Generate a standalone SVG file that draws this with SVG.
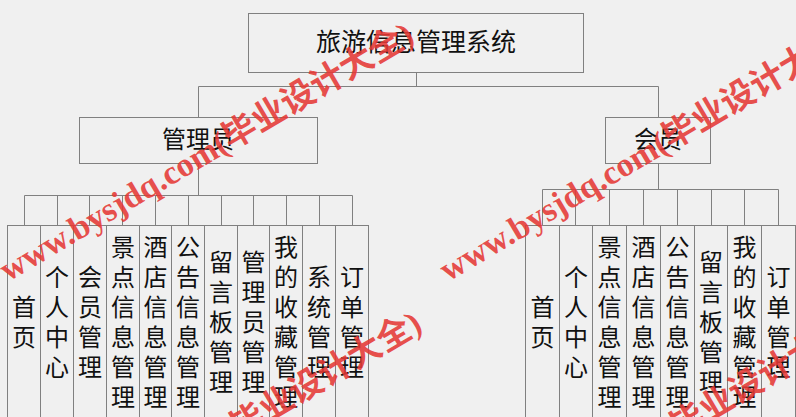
<svg xmlns="http://www.w3.org/2000/svg" width="796" height="417" viewBox="0 0 796 417">
<style>
.bg{fill:#f0f0f0}
.box{fill:#f0f0f0;stroke:#808080;stroke-width:1}
.ln{fill:none;stroke:#808080;stroke-width:1}
.t{font-family:"Noto Sans CJK SC","Noto Sans",sans-serif;fill:#111;text-anchor:middle}
.big{font-size:25px}
.mid{font-size:24px}
.leaf{font-size:24px}
.wm{font-family:"Liberation Serif","Noto Sans CJK SC",serif;font-weight:bold;font-size:34px;fill:#e53935;fill-opacity:0.88}
.wm .cjk{font-family:"Noto Sans CJK SC",sans-serif}
</style>
<rect class="bg" x="0" y="0" width="796" height="417"/>
<g id="connectors">
<path class="ln" d="M416.5 72.5V86.5M198.5 86.5H658.5M198.5 86.5V117.5M658.5 86.5V117.5"/>
<path class="ln" d="M198.5 163.5V195.5M24.5 195.5H352.5M24.5 195.5V225.5M57.5 195.5V225.5M89.5 195.5V225.5M122.5 195.5V225.5M155.5 195.5V225.5M188.5 195.5V225.5M221.5 195.5V225.5M253.5 195.5V225.5M286.5 195.5V225.5M319.5 195.5V225.5M352.5 195.5V225.5"/>
<path class="ln" d="M658.5 163.5V189.5M542.5 189.5H778.5M542.5 189.5V225.5M575.5 189.5V225.5M609.5 189.5V225.5M643.5 189.5V225.5M677.5 189.5V225.5M711.5 189.5V225.5M744.5 189.5V225.5M778.5 189.5V225.5"/>
</g>
<g id="root"><rect class="box" x="248.5" y="13.5" width="335" height="59"/><text class="t big" x="416" y="51">旅游信息管理系统</text></g>
<g id="admin"><rect class="box" x="79.5" y="117.5" width="238" height="46"/><text class="t mid" x="198" y="148">管理员</text></g>
<g id="member"><rect class="box" x="605.5" y="117.5" width="105" height="46"/><text class="t mid" x="658" y="148">会员</text></g>
<g id="a1"><rect class="box" x="7.5" y="225.5" width="33" height="200"/><text class="t leaf"><tspan x="24" y="316">首</tspan><tspan x="24" dy="30">页</tspan></text></g>
<g id="a2"><rect class="box" x="40.5" y="225.5" width="33" height="200"/><text class="t leaf"><tspan x="57" y="286">个</tspan><tspan x="57" dy="30">人</tspan><tspan x="57" dy="30">中</tspan><tspan x="57" dy="30">心</tspan></text></g>
<g id="a3"><rect class="box" x="73.5" y="225.5" width="33" height="200"/><text class="t leaf"><tspan x="90" y="286">会</tspan><tspan x="90" dy="30">员</tspan><tspan x="90" dy="30">管</tspan><tspan x="90" dy="30">理</tspan></text></g>
<g id="a4"><rect class="box" x="106.5" y="225.5" width="33" height="200"/><text class="t leaf"><tspan x="123" y="256">景</tspan><tspan x="123" dy="30">点</tspan><tspan x="123" dy="30">信</tspan><tspan x="123" dy="30">息</tspan><tspan x="123" dy="30">管</tspan><tspan x="123" dy="30">理</tspan></text></g>
<g id="a5"><rect class="box" x="139.5" y="225.5" width="32" height="200"/><text class="t leaf"><tspan x="155.5" y="256">酒</tspan><tspan x="155.5" dy="30">店</tspan><tspan x="155.5" dy="30">信</tspan><tspan x="155.5" dy="30">息</tspan><tspan x="155.5" dy="30">管</tspan><tspan x="155.5" dy="30">理</tspan></text></g>
<g id="a6"><rect class="box" x="171.5" y="225.5" width="33" height="200"/><text class="t leaf"><tspan x="188" y="256">公</tspan><tspan x="188" dy="30">告</tspan><tspan x="188" dy="30">信</tspan><tspan x="188" dy="30">息</tspan><tspan x="188" dy="30">管</tspan><tspan x="188" dy="30">理</tspan></text></g>
<g id="a7"><rect class="box" x="204.5" y="225.5" width="33" height="200"/><text class="t leaf"><tspan x="221" y="271">留</tspan><tspan x="221" dy="30">言</tspan><tspan x="221" dy="30">板</tspan><tspan x="221" dy="30">管</tspan><tspan x="221" dy="30">理</tspan></text></g>
<g id="a8"><rect class="box" x="237.5" y="225.5" width="32" height="200"/><text class="t leaf"><tspan x="253.5" y="271">管</tspan><tspan x="253.5" dy="30">理</tspan><tspan x="253.5" dy="30">员</tspan><tspan x="253.5" dy="30">管</tspan><tspan x="253.5" dy="30">理</tspan></text></g>
<g id="a9"><rect class="box" x="269.5" y="225.5" width="33" height="200"/><text class="t leaf"><tspan x="286" y="256">我</tspan><tspan x="286" dy="30">的</tspan><tspan x="286" dy="30">收</tspan><tspan x="286" dy="30">藏</tspan><tspan x="286" dy="30">管</tspan><tspan x="286" dy="30">理</tspan></text></g>
<g id="a10"><rect class="box" x="302.5" y="225.5" width="33" height="200"/><text class="t leaf"><tspan x="319" y="286">系</tspan><tspan x="319" dy="30">统</tspan><tspan x="319" dy="30">管</tspan><tspan x="319" dy="30">理</tspan></text></g>
<g id="a11"><rect class="box" x="335.5" y="225.5" width="33" height="200"/><text class="t leaf"><tspan x="352" y="286">订</tspan><tspan x="352" dy="30">单</tspan><tspan x="352" dy="30">管</tspan><tspan x="352" dy="30">理</tspan></text></g>
<g id="m1"><rect class="box" x="525.5" y="225.5" width="34" height="200"/><text class="t leaf"><tspan x="542.5" y="316">首</tspan><tspan x="542.5" dy="30">页</tspan></text></g>
<g id="m2"><rect class="box" x="559.5" y="225.5" width="33" height="200"/><text class="t leaf"><tspan x="576" y="286">个</tspan><tspan x="576" dy="30">人</tspan><tspan x="576" dy="30">中</tspan><tspan x="576" dy="30">心</tspan></text></g>
<g id="m3"><rect class="box" x="592.5" y="225.5" width="34" height="200"/><text class="t leaf"><tspan x="609.5" y="256">景</tspan><tspan x="609.5" dy="30">点</tspan><tspan x="609.5" dy="30">信</tspan><tspan x="609.5" dy="30">息</tspan><tspan x="609.5" dy="30">管</tspan><tspan x="609.5" dy="30">理</tspan></text></g>
<g id="m4"><rect class="box" x="626.5" y="225.5" width="34" height="200"/><text class="t leaf"><tspan x="643.5" y="256">酒</tspan><tspan x="643.5" dy="30">店</tspan><tspan x="643.5" dy="30">信</tspan><tspan x="643.5" dy="30">息</tspan><tspan x="643.5" dy="30">管</tspan><tspan x="643.5" dy="30">理</tspan></text></g>
<g id="m5"><rect class="box" x="660.5" y="225.5" width="34" height="200"/><text class="t leaf"><tspan x="677.5" y="256">公</tspan><tspan x="677.5" dy="30">告</tspan><tspan x="677.5" dy="30">信</tspan><tspan x="677.5" dy="30">息</tspan><tspan x="677.5" dy="30">管</tspan><tspan x="677.5" dy="30">理</tspan></text></g>
<g id="m6"><rect class="box" x="694.5" y="225.5" width="33" height="200"/><text class="t leaf"><tspan x="711" y="271">留</tspan><tspan x="711" dy="30">言</tspan><tspan x="711" dy="30">板</tspan><tspan x="711" dy="30">管</tspan><tspan x="711" dy="30">理</tspan></text></g>
<g id="m7"><rect class="box" x="727.5" y="225.5" width="34" height="200"/><text class="t leaf"><tspan x="744.5" y="256">我</tspan><tspan x="744.5" dy="30">的</tspan><tspan x="744.5" dy="30">收</tspan><tspan x="744.5" dy="30">藏</tspan><tspan x="744.5" dy="30">管</tspan><tspan x="744.5" dy="30">理</tspan></text></g>
<g id="m8"><rect class="box" x="761.5" y="225.5" width="34" height="200"/><text class="t leaf"><tspan x="778.5" y="286">订</tspan><tspan x="778.5" dy="30">单</tspan><tspan x="778.5" dy="30">管</tspan><tspan x="778.5" dy="30">理</tspan></text></g>
<g id="watermark">
<text class="wm" transform="translate(8 282) rotate(-30.6)">www.bysjdq.com(<tspan class="cjk">毕业设计大全</tspan>)</text>
<text class="wm" transform="translate(448 282) rotate(-30.6)">www.bysjdq.com(<tspan class="cjk">毕业设计大全</tspan>)</text>
<text class="wm" transform="translate(16 571) rotate(-30.6)">www.bysjdq.com(<tspan class="cjk">毕业设计大全</tspan>)</text>
<text class="wm" transform="translate(456 571) rotate(-30.6)">www.bysjdq.com(<tspan class="cjk">毕业设计大全</tspan>)</text>
</g>
</svg>
